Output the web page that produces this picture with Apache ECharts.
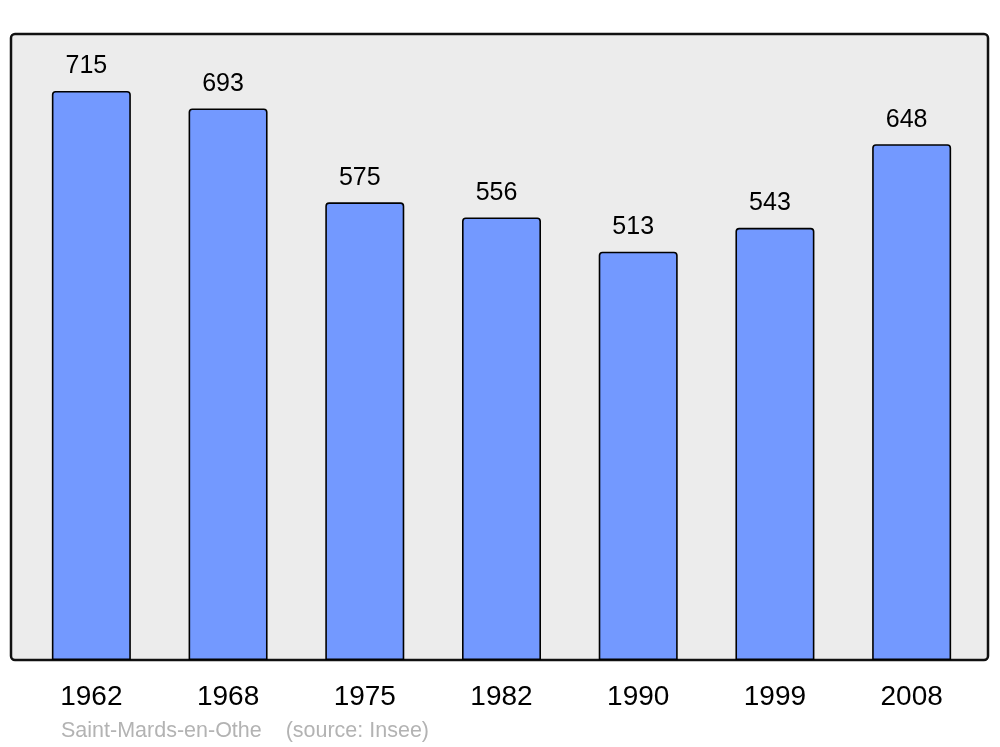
<!DOCTYPE html>
<html>
<head>
<meta charset="utf-8">
<script src="https://cdn.jsdelivr.net/npm/echarts@6/dist/echarts.min.js"></script>
<style>html,body{margin:0;padding:0;background:#fff}#c{width:1000px;height:747px}</style>
</head>
<body>
<div id="c"></div>
<script>
const categories = ['1962', '1968', '1975', '1982', '1990', '1999', '2008'];
const population = [715, 693, 575, 556, 513, 543, 648];
const yMax = 786.5;
const sourceText = 'Saint-Mards-en-Othe    (source: Insee)';

const chart = echarts.init(document.getElementById('c'), null, {renderer: 'canvas'});
chart.setOption({
  animation: false,
  backgroundColor: '#ffffff',
  textStyle: {fontFamily: 'Liberation Sans, Arial, sans-serif'},
  graphic: [
    {type: 'rect', z: -10, silent: true,
     shape: {x: 11, y: 34, width: 977, height: 626, r: 4},
     style: {fill: '#ececec', stroke: '#111', lineWidth: 2.5}},
    {type: 'text', left: 61, top: 720, silent: true,
     style: {text: sourceText, fill: '#b3b3b3', fontSize: 21.5, fontFamily: 'Liberation Sans, Arial, sans-serif'}}
  ],
  grid: {left: 23, right: 20, top: 34, bottom: 87, containLabel: false},
  xAxis: {
    type: 'category', data: categories,
    axisLine: {show: false}, axisTick: {show: false},
    axisLabel: {color: '#000', fontSize: 28, margin: 23, fontFamily: 'Liberation Sans, Arial, sans-serif'}
  },
  yAxis: {
    type: 'value', min: 0, max: yMax,
    show: false, splitLine: {show: false}
  },
  series: [{
    type: 'bar', data: population, barWidth: 79,
    itemStyle: {color: '#7399ff', borderColor: '#000', borderWidth: 1.6, borderRadius: [3, 3, 0, 0]},
    label: {show: true, position: 'top', distance: 12, offset: [-5, 0],
            color: '#000', fontSize: 25, fontFamily: 'Liberation Sans, Arial, sans-serif'}
  }]
});
</script>
</body>
</html>
